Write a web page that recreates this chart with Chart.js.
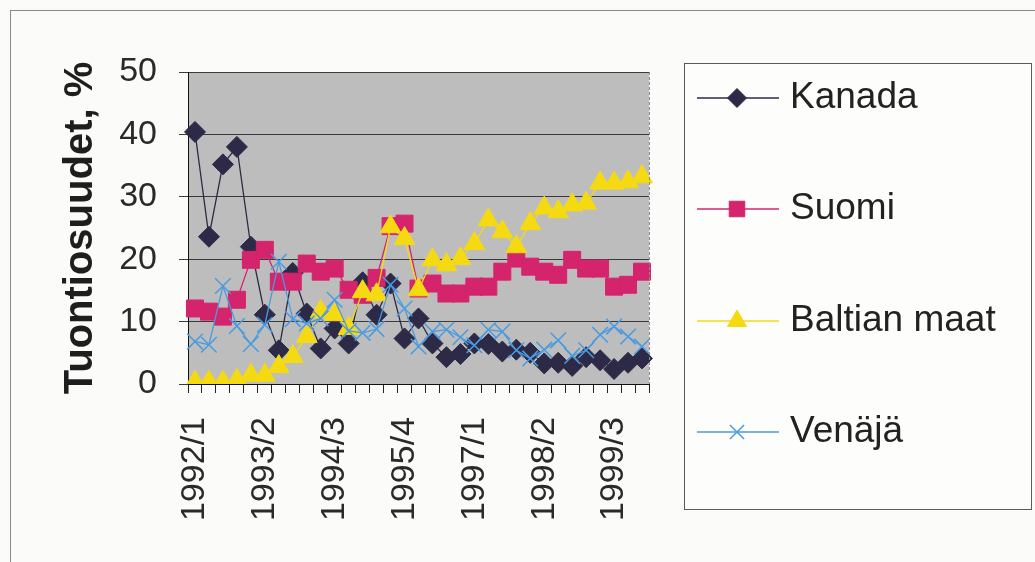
<!DOCTYPE html>
<html>
<head>
<meta charset="utf-8">
<script src="https://cdn.jsdelivr.net/npm/chart.js@4"></script>
<style>
  html, body { margin: 0; padding: 0; background: #fbfbf9; overflow: hidden; }
  #wrap { position: relative; width: 1035px; height: 562px; }
  #frame { position: absolute; left: 10px; top: 10px; width: 1040px; height: 570px; border: 1px solid #8a8a8a; }
  canvas { position: absolute; left: 0; top: 0; }
</style>
</head>
<body>
<div id="wrap">
  <div id="frame"></div>
  <canvas id="c" width="1035" height="562"></canvas>
</div>
<script>
// --- DATA ---
const quarters = [
  '1992/1','1992/2','1992/3','1992/4','1993/1','1993/2','1993/3','1993/4',
  '1994/1','1994/2','1994/3','1994/4','1995/1','1995/2','1995/3','1995/4',
  '1996/1','1996/2','1996/3','1996/4','1997/1','1997/2','1997/3','1997/4',
  '1998/1','1998/2','1998/3','1998/4','1999/1','1999/2','1999/3','1999/4',
  '2000/1'
];
const kanada  = [40.4, 23.6, 35.2, 38.0, 22.0, 11.1, 5.4, 17.8, 11.3, 5.7, 8.9, 6.5, 16.3, 11.1, 16.1, 7.3,
                 10.5, 6.5, 4.3, 4.8, 6.5, 6.4, 5.2, 5.5, 5.0, 3.3, 3.4, 2.9, 4.3, 3.8, 2.4, 3.4, 4.1];
const suomi   = [12.1, 11.6, 10.8, 13.5, 19.9, 21.5, 16.4, 16.4, 19.3, 18.0, 18.5, 15.1, 14.3, 17.0, 25.3, 25.7,
                 15.3, 16.1, 14.5, 14.5, 15.6, 15.6, 18.0, 20.1, 18.8, 18.0, 17.5, 19.9, 18.5, 18.5, 15.6, 15.9, 18.0];
const baltia  = [0.3, 0.3, 0.3, 0.6, 1.4, 1.4, 2.8, 4.4, 7.6, 11.6, 11.1, 8.9, 14.8, 14.3, 25.2, 23.3,
                 15.1, 19.9, 19.1, 20.1, 22.5, 26.3, 24.4, 22.0, 25.7, 28.2, 27.6, 28.7, 29.0, 32.2, 32.2, 32.4, 33.2];
const venaja  = [6.8, 6.3, 15.7, 9.3, 6.4, 9.5, 19.6, 10.4, 9.7, 10.5, 13.5, 8.5, 8.2, 8.8, 15.9, 12.1,
                 6.0, 8.4, 8.7, 7.5, 6.2, 8.7, 8.4, 5.4, 4.1, 5.5, 7.0, 4.5, 5.4, 7.9, 9.2, 7.6, 6.0];
const yTicks = [0, 10, 20, 30, 40, 50];
const seriesNames = ['Kanada', 'Suomi', 'Baltian maat', 'Venäjä'];

const FONT = '"Liberation Sans", Arial, sans-serif';

function series(label, data, color, style, radius, order, bw) {
  return {
    label, data, order,
    borderColor: color, backgroundColor: color, borderWidth: 1.3,
    pointStyle: style, pointRadius: radius, pointBorderWidth: bw || 1,
    pointBackgroundColor: color, pointBorderColor: color,
    tension: 0
  };
}

// plot background, dashed right edge and the boxed legend
const decor = {
  id: 'decor',
  beforeDraw(chart) {
    const { ctx, chartArea: a } = chart;
    ctx.save();
    ctx.fillStyle = '#bdbdbd';
    ctx.fillRect(a.left, a.top, a.right - a.left, a.bottom - a.top);
    ctx.restore();
  },
  afterDraw(chart) {
    const { ctx, chartArea: a } = chart;
    ctx.save();
    ctx.strokeStyle = '#8c8c8c';
    ctx.lineWidth = 1;
    ctx.setLineDash([3, 2]);
    ctx.beginPath();
    ctx.moveTo(Math.round(a.right) + 0.5, a.top);
    ctx.lineTo(Math.round(a.right) + 0.5, a.bottom);
    ctx.stroke();
    ctx.setLineDash([]);

    // legend
    ctx.fillStyle = '#fdfdfc';
    ctx.fillRect(684.5, 63.5, 347, 446);
    ctx.strokeStyle = '#5a5a5a';
    ctx.strokeRect(684.5, 63.5, 347, 446);
    const ys = [98, 209, 321, 432];
    chart.data.datasets.forEach((ds, i) => {
      const y = ys[i];
      ctx.strokeStyle = ds.borderColor;
      ctx.lineWidth = 1.3;
      ctx.beginPath();
      ctx.moveTo(697, y);
      ctx.lineTo(779, y);
      ctx.stroke();
      ctx.fillStyle = ds.pointBackgroundColor;
      ctx.strokeStyle = ds.pointBorderColor;
      ctx.lineWidth = ds.pointBorderWidth;
      Chart.helpers.drawPoint(ctx, { pointStyle: ds.pointStyle, radius: ds.pointRadius - 1, rotation: 0, borderWidth: ds.pointBorderWidth }, 737, y);
      ctx.fillStyle = '#222';
      ctx.font = '37px ' + FONT;
      ctx.textBaseline = 'middle';
      ctx.textAlign = 'left';
      ctx.fillText(seriesNames[i], 790, y);
    });
    ctx.restore();
  }
};

new Chart(document.getElementById('c'), {
  type: 'line',
  data: {
    labels: quarters,
    datasets: [
      series(seriesNames[0], kanada, '#2d2a48', 'rectRot', 10.5, 4),
      series(seriesNames[1], suomi, '#d4246c', 'rect', 12, 3),
      series(seriesNames[2], baltia, '#f5da12', 'triangle', 12, 2),
      series(seriesNames[3], venaja, '#4a9be0', 'crossRot', 11, 1, 1.5)
    ]
  },
  options: {
    responsive: false,
    devicePixelRatio: 1,
    animation: false,
    layout: { padding: { left: 53, right: 386, top: 72, bottom: 0 } },
    plugins: { legend: { display: false }, tooltip: { enabled: false } },
    scales: {
      x: {
        offset: true,
        grid: { display: true, drawOnChartArea: false, drawTicks: true, tickLength: 9, offset: true, color: '#222' },
        border: { color: '#111', width: 1 },
        ticks: {
          autoSkip: false, maxRotation: 90, minRotation: 90, padding: 24,
          color: '#2a2a2a', font: { family: FONT, size: 34 },
          callback: (v, i) => (i % 5 === 0 ? quarters[i] : '')
        },
        afterFit: s => { s.height = 178; }
      },
      y: {
        min: 0, max: 50,
        afterBuildTicks: s => { s.ticks = yTicks.map(v => ({ value: v })); },
        grid: { color: '#3a3a3a', lineWidth: 1, tickLength: 9 },
        border: { color: '#111', width: 1 },
        ticks: { padding: 22, color: '#2a2a2a', font: { family: FONT, size: 34 } },
        title: {
          display: true, text: 'Tuontiosuudet, %', color: '#1e1e1e',
          font: { family: FONT, size: 40, weight: 'bold' }, padding: { top: 4, bottom: 0 }
        },
        afterFit: s => { s.width = 135; }
      }
    }
  },
  plugins: [decor]
});
</script>
</body>
</html>
